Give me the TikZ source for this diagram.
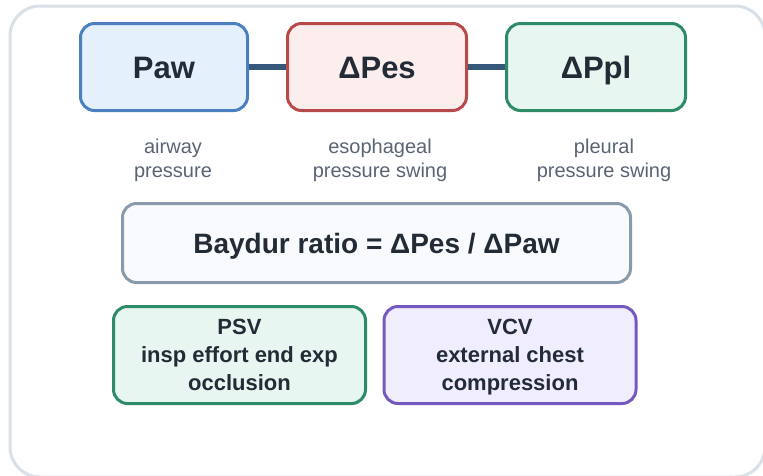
\documentclass[tikz,border=0pt]{standalone}
\usepackage{fontspec}
\setmainfont{Liberation Sans}
\usepackage{xcolor}

\definecolor{inkdark}{HTML}{222B36}
\definecolor{inkgray}{HTML}{5A6472}
\definecolor{framegray}{HTML}{D9E0E8}
\definecolor{linkblue}{HTML}{34577A}
\definecolor{pawline}{HTML}{4A7FC0}
\definecolor{pawfill}{HTML}{E4F0FC}
\definecolor{pesline}{HTML}{B84A4A}
\definecolor{pesfill}{HTML}{FDEEEE}
\definecolor{pplline}{HTML}{2E8B68}
\definecolor{pplfill}{HTML}{E7F6F0}
\definecolor{ratioline}{HTML}{8A9AAD}
\definecolor{ratiofill}{HTML}{F8FAFD}
\definecolor{vcvline}{HTML}{7459BE}
\definecolor{vcvfill}{HTML}{F0EDFD}

\begin{document}
\begin{tikzpicture}[
  x=1pt, y=-1pt,
  box/.style={rounded corners=14pt, line width=3pt, text=inkdark, align=center, inner sep=0pt},
  signal/.style={box, minimum height=87pt, font=\bfseries\fontsize{31}{36}\selectfont, text height=22.2pt, text depth=0pt},
  mode/.style={box, minimum width=252pt, minimum height=97pt, font=\bfseries\fontsize{22}{28}\selectfont, text depth=0pt},
  caption/.style={text=inkgray, align=center, font=\fontsize{20}{24}\selectfont},
  link/.style={linkblue, line width=6pt},
]
\useasboundingbox (0,0) rectangle (763,475);

% --- Outer frame ---
\draw[framegray, line width=3pt, rounded corners=30pt] (10,6) rectangle (765,477);

% --- Pressure signals ---
\node[signal, draw=pawline, fill=pawfill, minimum width=167pt] (paw) at (164,67) {Paw};
\node[signal, draw=pesline, fill=pesfill, minimum width=179pt] (pes) at (377,67) {ΔPes};
\node[signal, draw=pplline, fill=pplfill, minimum width=179pt] (ppl) at (596,67) {ΔPpl};

% --- Links ---
\draw[link] (paw) -- (pes);
\draw[link] (pes) -- (ppl);

% --- Captions ---
\node[caption] (pawcap) at (173,160) {airway\\pressure};
\node[caption] (pescap) at (380,160) {esophageal\\pressure swing};
\node[caption] (pplcap) at (604,160) {pleural\\pressure swing};

% --- Ratio ---
\node[box, draw=ratioline, fill=ratiofill, minimum width=508pt, minimum height=79pt,
  font=\bfseries\fontsize{28}{34}\selectfont, text height=20pt, text depth=0pt] (ratio) at (376.5,243)
  {Baydur ratio = ΔPes / ΔPaw};

% --- Ventilation modes ---
\node[mode, draw=pplline, fill=pplfill] (psv) at (239.5,355) {PSV\\insp effort end exp\\occlusion};
\node[mode, draw=vcvline, fill=vcvfill] (vcv) at (510,355) {VCV\\external chest\\compression};

\end{tikzpicture}
\end{document}
